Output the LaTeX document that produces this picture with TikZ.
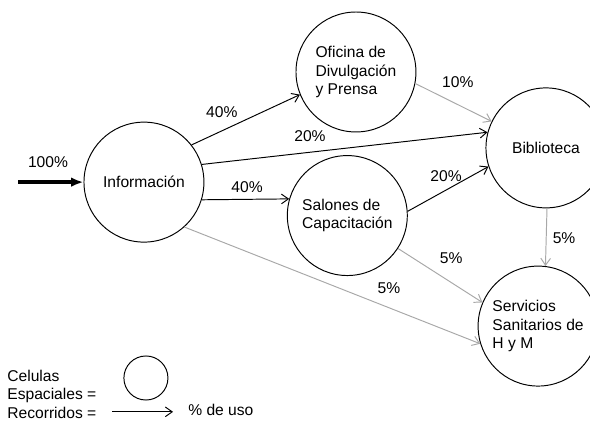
\documentclass[tikz,border=0pt]{standalone}
\usepackage{fontspec}
\setmainfont{Liberation Sans}
\usepackage{tikz}
\usetikzlibrary{
    arrows.meta,
    positioning
}
\definecolor{lgris}{RGB}{168,168,168}
\tikzset{
  cel/.style  = {draw, circle, line width=0.7pt, minimum size=3.05cm,
                 inner sep=0pt, align=left},
  txt/.style  = {font=\fontsize{11.3}{13.4}\selectfont}
}

\begin{document}
\begin{tikzpicture}[
    txt,
    arr/.style={-{Straight Barb[length=5pt,width=7pt]}, line width=0.7pt},
    garr/.style={arr, lgris},
    big/.style={-{Latex[length=9pt,width=7pt]}, line width=2.6pt},
    lbl/.style={inner sep=1pt}
  ]
    \useasboundingbox (0,0) rectangle (15,-10.73);
    % Celulas
    \node[cel](info) at (3.66,-4.63)  {Información};
    \node[cel](ofi)  at (9.05,-1.83)  {Oficina de\\Divulgación\\y Prensa};
    \node[cel](sal)  at (8.83,-5.48)  {Salones de\\Capacitación};
    \node[cel](bib)  at (13.88,-3.76) {Biblioteca};
    \node[cel](serv) at (13.68,-8.29) {Servicios\\Sanitarios de\\H y M};

    % Recorridos
    \coordinate (ent) at (0.46,-4.63);
    \draw[big](ent)--(info.west);
    \node[lbl] at (1.22,-4.12) {100\%};

    \draw[arr](info.38)--(ofi.202);
    \draw[arr](info.17)--(bib.165.5);
    \draw[arr](info.-17)--(sal.164.5);
    \draw[arr](sal.4)--(bib.198);
    \draw[garr](ofi.-11)--(bib.154);
    \draw[garr](bib.271)--(serv.83);
    \draw[garr](sal.-33)--(serv.157.7);
    \draw[garr](info.-48)--(serv.197);

    \node[lbl] at (5.64,-2.85)  {40\%};
    \node[lbl] at (7.88,-3.46)  {20\%};
    \node[lbl] at (6.28,-4.75)  {40\%};
    \node[lbl] at (11.64,-2.08) {10\%};
    \node[lbl] at (11.34,-4.47) {20\%};
    \node[lbl] at (14.34,-6.05) {5\%};
    \node[lbl] at (11.47,-6.56) {5\%};
    \node[lbl] at (9.89,-7.32)  {5\%};

    % Leyenda
    \node[anchor=west, align=left, inner sep=0pt](ley) at (0.18,-10.02)
        {Celulas\\Espaciales =\\Recorridos =};
    \node[draw, circle, line width=0.7pt, minimum size=1.12cm](lcel)
        at (3.71,-9.61) {};
    \coordinate (la) at (2.85,-10.47);
    \coordinate (lb) at (4.40,-10.47);
    \draw[arr](la)--(lb);
    \node[anchor=west, inner sep=0pt](uso) at (4.78,-10.42) {\% de uso};
\end{tikzpicture}
\end{document}
